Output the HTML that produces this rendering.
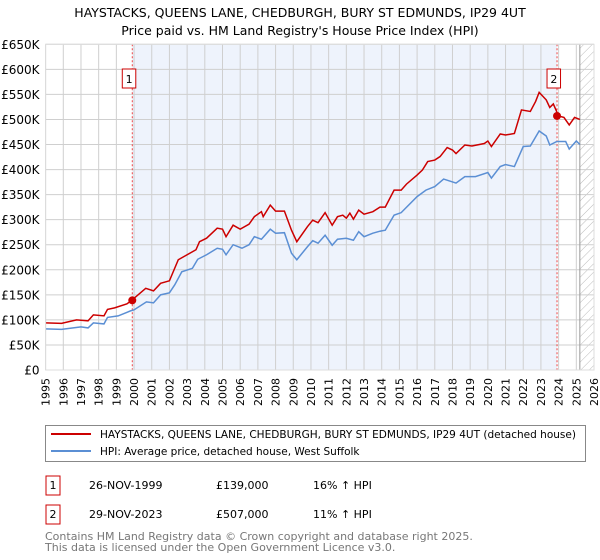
<!DOCTYPE html>
<html><head><meta charset="utf-8"><style>
body{margin:0;background:#fff;font-family:"Liberation Sans","DejaVu Sans",sans-serif;}
svg{display:block}
</style></head><body>
<svg id="chart" width="600" height="560" font-family="DejaVu Sans, Liberation Sans, sans-serif">
<defs><pattern id="hatch" width="6" height="6" patternUnits="userSpaceOnUse" patternTransform="rotate(45)"><line x1="0" y1="0" x2="0" y2="6" stroke="#bbb" stroke-width="1"/></pattern></defs>
<text x="300" y="17" text-anchor="middle" font-size="12.5">HAYSTACKS, QUEENS LANE, CHEDBURGH, BURY ST EDMUNDS, IP29 4UT</text>
<text x="300" y="35" text-anchor="middle" font-size="12.5">Price paid vs. HM Land Registry's House Price Index (HPI)</text>
<g id="plot"></g>
<rect x="45.5" y="425.5" width="540" height="36" fill="#fff" stroke="#888"/>
<line x1="51" y1="434" x2="91" y2="434" stroke="#cc0000" stroke-width="2"/>
<text x="100" y="438" font-size="10.5" textLength="476" lengthAdjust="spacingAndGlyphs">HAYSTACKS, QUEENS LANE, CHEDBURGH, BURY ST EDMUNDS, IP29 4UT (detached house)</text>
<line x1="51" y1="451" x2="91" y2="451" stroke="#5b8fd4" stroke-width="2"/>
<text x="100" y="455" font-size="10.5">HPI: Average price, detached house, West Suffolk</text>
<rect x="46" y="476" width="14" height="19" fill="none" stroke="#cc0000"/>
<text x="53" y="489" text-anchor="middle" font-size="11">1</text>
<text x="89" y="489" font-size="11">26-NOV-1999</text>
<text x="216" y="489" font-size="11">£139,000</text>
<text x="313" y="489" font-size="11">16% ↑ HPI</text>
<rect x="46" y="505" width="14" height="19" fill="none" stroke="#cc0000"/>
<text x="53" y="518" text-anchor="middle" font-size="11">2</text>
<text x="89" y="518" font-size="11">29-NOV-2023</text>
<text x="216" y="518" font-size="11">£507,000</text>
<text x="313" y="518" font-size="11">11% ↑ HPI</text>
<text x="45" y="540" font-size="11" fill="#777">Contains HM Land Registry data © Crown copyright and database right 2025.</text>
<text x="45" y="551" font-size="11" fill="#777">This data is licensed under the Open Government Licence v3.0.</text>
</svg>
<script>
const yTicks=[0,50,100,150,200,250,300,350,400,450,500,550,600,650];
const yTickLabels=["£0","£50K","£100K","£150K","£200K","£250K","£300K","£350K","£400K","£450K","£500K","£550K","£600K","£650K"];
const xYears=[1995,1996,1997,1998,1999,2000,2001,2002,2003,2004,2005,2006,2007,2008,2009,2010,2011,2012,2013,2014,2015,2016,2017,2018,2019,2020,2021,2022,2023,2024,2025,2026];
const redYears=[1995.0,1995.9,1996.75,1997.4,1997.7,1998.3,1998.5,1998.9,1999.6,1999.9,2000.66,2001.1,2001.5,2002.0,2002.5,2003.0,2003.5,2003.7,2004.1,2004.7,2005.0,2005.2,2005.6,2006.0,2006.5,2006.8,2007.2,2007.3,2007.7,2008.0,2008.5,2008.9,2009.2,2009.8,2010.1,2010.4,2010.8,2011.2,2011.5,2011.8,2012.0,2012.2,2012.4,2012.7,2013.0,2013.5,2013.9,2014.2,2014.7,2015.1,2015.4,2016.0,2016.3,2016.6,2017.0,2017.3,2017.7,2018.0,2018.2,2018.7,2019.1,2019.8,2020.0,2020.2,2020.7,2021.0,2021.5,2021.9,2022.4,2022.7,2022.9,2023.3,2023.5,2023.7,2024.0,2024.3,2024.6,2024.9,2025.2];
const redValues=[94,93,100,98,110,108,121,124,132,140,163,158,173,178,220,230,240,256,263,283,281,266,289,281,291,306,316,306,329,317,317,279,256,286,299,294,314,289,306,309,303,313,301,319,311,316,325,325,359,359,371,389,399,416,419,426,444,439,432,449,447,452,457,446,471,469,472,519,516,536,554,539,524,531,507,504,489,504,500];
const blueYears=[1995.0,1995.9,1997.0,1997.4,1997.7,1998.3,1998.5,1999.1,1999.8,2000.0,2000.7,2001.1,2001.5,2002.0,2002.3,2002.7,2003.3,2003.6,2004.1,2004.7,2005.0,2005.2,2005.6,2006.1,2006.5,2006.8,2007.2,2007.7,2008.0,2008.5,2008.9,2009.2,2009.8,2010.1,2010.4,2010.8,2011.2,2011.5,2012.0,2012.4,2012.7,2013.0,2013.5,2013.9,2014.2,2014.7,2015.1,2016.0,2016.5,2017.0,2017.5,2018.2,2018.7,2019.3,2020.0,2020.2,2020.7,2021.0,2021.5,2022.0,2022.4,2022.9,2023.3,2023.5,2023.9,2024.4,2024.6,2025.0,2025.2];
const blueValues=[82,81,86,84,94,92,105,108,118,120,136,134,150,154,170,196,203,221,230,243,241,230,250,243,250,266,261,281,273,274,233,220,246,258,253,269,249,261,263,259,276,266,273,277,279,309,314,346,359,366,381,373,386,386,394,383,406,410,406,446,447,477,467,449,456,456,441,457,450];
const saleYears=[1999.9,2023.91];
const saleValues=[139,507];
const saleLabels=["1","2"];
const dataEnd=2025.2;

const X0=45.6,X1=594,Y0=370,Y1=44.3;
const x=y=>X0+(y-1995)/(2026-1995)*(X1-X0);
const yv=v=>Y0-v/650*(Y0-Y1);
const NS="http://www.w3.org/2000/svg";
const g=document.getElementById('plot');
function mk(t,a){const e=document.createElementNS(NS,t);for(const k in a)e.setAttribute(k,a[k]);g.appendChild(e);return e;}

const shade=mk('rect',{x:x(saleYears[0]),y:Y1,width:x(saleYears[1])-x(saleYears[0]),height:Y0-Y1,fill:'#eef3fc'});


const hatch=mk('rect',{x:x(dataEnd),y:Y1,width:X1-x(dataEnd),height:Y0-Y1,fill:'url(#hatch)'});



xYears.forEach(yr=>{
  const l=mk('line',{x1:x(yr),x2:x(yr),y1:Y1,y2:Y0,stroke:'#cfcfcf','stroke-width':1});
  
  
  const t=mk('text',{x:0,y:0,'font-size':11,'text-anchor':'end',transform:`translate(${x(yr)+4},378) rotate(-90)`});
  t.textContent=yr;
  
  
});
yTicks.forEach((v,i)=>{
  const l=mk('line',{x1:X0,x2:X1,y1:yv(v),y2:yv(v),stroke:'#cfcfcf','stroke-width':1});
  
  
  const t=mk('text',{x:39.5,y:yv(v)+4.5,'font-size':12,'text-anchor':'end'});
  t.textContent=yTickLabels[i];
  
  
});
const db=mk('line',{x1:x(dataEnd),x2:x(dataEnd),y1:Y1,y2:Y0,stroke:'#999','stroke-width':1});


const ax=mk('line',{x1:X0,x2:X1,y1:Y0,y2:Y0,stroke:'#bbb'});



saleYears.forEach((yr,i)=>{
  const l=mk('line',{x1:x(yr),x2:x(yr),y1:Y1,y2:Y0,stroke:'#ee4444','stroke-dasharray':'2,2','stroke-width':1});
  
  
  const r=mk('rect',{x:x(yr)-10,y:69,width:13.5,height:19,fill:'#fff',stroke:'#cc0000'});
  
  
  const t=mk('text',{x:x(yr)-3.2,y:83,'font-size':11,'text-anchor':'middle'});
  t.textContent=saleLabels[i];
  
  
});

const pb=mk('polyline',{points:blueYears.map((yr,i)=>x(yr)+','+yv(blueValues[i])).join(' '),fill:'none',stroke:'#5b8fd4','stroke-width':1.5});


const pr=mk('polyline',{points:redYears.map((yr,i)=>x(yr)+','+yv(redValues[i])).join(' '),fill:'none',stroke:'#cc0000','stroke-width':1.5});


saleYears.forEach((yr,i)=>{
  const c=mk('circle',{cx:x(yr),cy:yv(saleValues[i]),r:4,fill:'#cc0000'});
  
  
});
const frame=mk('rect',{x:X0,y:Y1,width:X1-X0,height:Y0-Y1,fill:'none',stroke:'#ddd'});


</script>
</body></html>
